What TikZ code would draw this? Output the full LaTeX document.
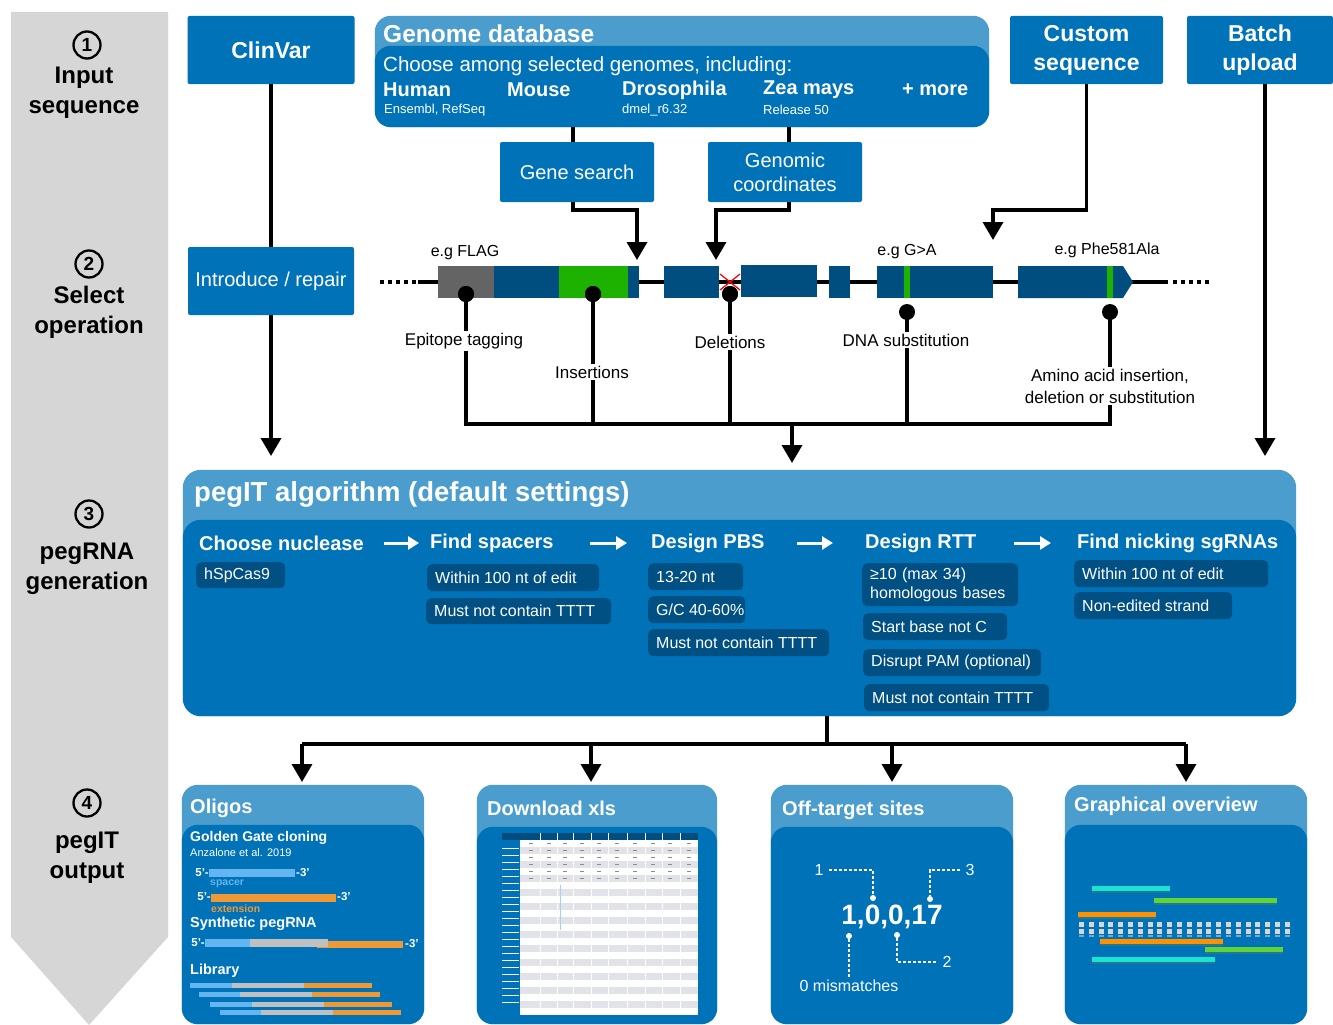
\documentclass[tikz,border=0pt]{standalone}
\usepackage{fontspec}
\setmainfont{Liberation Sans}
\usetikzlibrary{arrows.meta}
\definecolor{bmain}{RGB}{0,114,184}
\definecolor{blight}{RGB}{74,157,205}
\definecolor{bchip}{RGB}{0,80,131}
\definecolor{exon}{RGB}{0,78,128}
\definecolor{egreen}{RGB}{30,178,0}
\definecolor{egray}{RGB}{100,100,100}
\definecolor{sidegray}{RGB}{214,214,214}
\definecolor{spblue}{RGB}{100,182,240}
\definecolor{extor}{RGB}{240,152,52}
\definecolor{midgray}{RGB}{192,192,192}
\definecolor{cyanbar}{RGB}{25,228,210}
\definecolor{grnbar}{RGB}{95,212,55}
\definecolor{orbar}{RGB}{255,145,0}
\definecolor{shadowc}{RGB}{35,120,150}
\definecolor{rowgray}{RGB}{226,227,232}
\definecolor{sqgray}{RGB}{215,215,215}
\newcommand\fsz[2]{\fontsize{#1}{#2}\selectfont}
\newcommand\chiptxt[2]{\makebox[#1pt][l]{#2}}
\tikzset{
  topbox/.style={fill=bmain, text=white, inner sep=0, rounded corners=2, align=center},
  ln/.style={line width=3.5, black},
  arr/.style={line width=3.5, black, -{Triangle[length=18,width=20]}},
  warr/.style={line width=3, white, -{Triangle[length=11,width=13]}},
  dotn/.style={circle, fill=black, minimum size=16, inner sep=0},
  wdot/.style={circle, fill=white, minimum size=6, inner sep=0},
  glab/.style={fill=white, inner sep=2, font=\fsz{17}{21}, align=center},
  txt/.style={inner sep=0, text=white},
  chip/.style={fill=bchip, rounded corners=5, text=white, font=\fsz{16}{19}, inner xsep=8, inner ysep=0, anchor=north west},
  stephead/.style={txt, anchor=west, font=\bfseries\fsz{20}{24}},
  circnum/.style={circle, draw=black, line width=2.3, minimum size=27, inner sep=0, font=\bfseries\fsz{19}{19}},
  sidelab/.style={inner sep=0, align=center, font=\bfseries\fsz{24}{30}},
  ptitle/.style={txt, anchor=west, font=\bfseries\fsz{20}{24}},
  dsh/.style={white, line width=1.4, dash pattern=on 3 off 2},
}
\begin{document}
\begin{tikzpicture}[x=1pt,y=-1pt]
\useasboundingbox (0,0) rectangle (1333,1025);
\fill[white] (0,0) rectangle (1333,1025);

% ---------- left step arrow ----------
\fill[sidegray] (11,12) -- (168,12) -- (168,937) -- (89,1025) -- (11,937) -- cycle;
\node[circnum] (c1) at (87,45) {1};
\node[sidelab] (s1) at (84,93) {Input\\sequence};
\node[circnum] (c2) at (89,264) {2};
\node[sidelab] (s2) at (89,312) {Select\\operation};
\node[circnum] (c3) at (89,514) {3};
\node[sidelab] (s3) at (87,569) {pegRNA\\generation};
\node[circnum] (c4) at (87,803) {4};
\node[sidelab] (s4) at (87,858) {pegIT\\output};

% ---------- input boxes ----------
\node[topbox, minimum width=167, minimum height=68, font=\bfseries\fsz{23}{29}] (clinvar) at (271,50) {ClinVar};
\node[topbox, minimum width=153, minimum height=68, font=\bfseries\fsz{23}{29}] (cs) at (1086.5,50) {Custom\\sequence};
\node[topbox, minimum width=146, minimum height=68, font=\bfseries\fsz{23}{29}] (bu) at (1260,50) {Batch\\upload};

\node[minimum width=614, minimum height=111, inner sep=0] (gdb) at (682,71.5) {};
\fill[blight, rounded corners=16] (gdb.south west) rectangle (gdb.north east);
\fill[bmain, rounded corners=16] (gdb.south west) rectangle ([yshift=-30]gdb.north east);
\node[txt, anchor=west, font=\bfseries\fsz{24.5}{27}] (gdbt) at (383,34) {Genome database};
\node[txt, anchor=west, font=\fsz{20.5}{24}] (gdbc) at (383,66) {Choose among selected genomes, including:};
\node[txt, anchor=west, font=\bfseries\fsz{20}{24}] (hum) at (383,90) {Human};
\node[txt, anchor=west, font=\fsz{13}{15}] (humv) at (384,110) {Ensembl, RefSeq};
\node[txt, anchor=west, font=\bfseries\fsz{20}{24}] (mou) at (507,90) {Mouse};
\node[txt, anchor=west, font=\bfseries\fsz{20}{24}] (dro) at (622,90) {Drosophila};
\node[txt, anchor=west, font=\fsz{13}{15}] (drov) at (622,110) {dmel\_r6.32};
\node[txt, anchor=west, font=\bfseries\fsz{20}{24}] (zea) at (763,90) {Zea mays};
\node[txt, anchor=west, font=\fsz{13}{15}] (zeav) at (763,110) {Release 50};
\node[txt, anchor=west, font=\bfseries\fsz{20}{24}] (more) at (902,90) {+ more};

\node[topbox, minimum width=154, minimum height=60, font=\fsz{20}{24}] (gs) at (577,172) {Gene search};
\node[topbox, minimum width=154, minimum height=60, font=\fsz{20}{24}] (gc) at (785,172) {Genomic\\coordinates};
\node[topbox, minimum width=166, minimum height=68, font=\fsz{20}{24}] (intro) at (271,281) {Introduce / repair};

% ---------- connectors (input) ----------
\coordinate (gsx) at (573,0);
\coordinate (gcx) at (789,0);
\coordinate (gsin) at (637,260);
\coordinate (gcin) at (716,260);
\coordinate (csin) at (993,240);
\coordinate (buin) at (1265,456);
\coordinate (clin) at (271,456);
\draw[ln] (gdb.south -| gsx) -- (gs.north -| gsx);
\draw[ln] (gdb.south -| gcx) -- (gc.north -| gcx);
\draw[arr] (gs.south -| gsx) -- ++(0,8) -| (gsin);
\draw[arr] (gc.south -| gcx) -- ++(0,8) -| (gcin);
\draw[arr] (cs.south) -- ++(0,126) -| (csin);
\draw[arr] (bu.south -| buin) -- (buin);
\draw[ln] (clinvar.south) -- (intro.north);
\draw[arr] (intro.south) -- (clin);

% ---------- gene map ----------
\draw[line width=4] (418,282) -- (1168,282);
\draw[line width=4, dash pattern=on 4 off 4] (380,282) -- (416,282);
\draw[line width=4, dash pattern=on 4 off 4] (1173,282) -- (1210,282);
\fill[egray] (438,266) rectangle (494,298);
\fill[exon] (494,266) rectangle (559,298);
\fill[egreen] (559,266) rectangle (628,298);
\fill[exon] (628,266) rectangle (639,298);
\fill[exon] (664,266) rectangle (719,298);
\draw[red, line width=1.2] (720,274) -- (740,290) (720,290) -- (740,274);
\fill[exon] (741,265) rectangle (817,297);
\fill[exon] (829,266) rectangle (850,298);
\fill[exon] (877,266) rectangle (993,298);
\fill[egreen] (904,266) rectangle (910,298);
\fill[exon] (1018,266) -- (1123,266) -- (1133,282) -- (1123,298) -- (1018,298) -- cycle;
\fill[egreen] (1107,266) rectangle (1113,298);

\node[inner sep=0, font=\fsz{16}{19}] (fl) at (465,253) {e.g FLAG};
\node[inner sep=0, font=\fsz{16}{19}] (ga) at (907,252) {e.g G>A};
\node[inner sep=0, font=\fsz{16}{19}] (pa) at (1107,250) {e.g Phe581Ala};

\node[dotn] (d1) at (466,294) {};
\node[dotn] (d2) at (593,294) {};
\node[dotn] (d3) at (730,294) {};
\node[dotn] (d4) at (907,312) {};
\node[dotn] (d5) at (1110,312) {};
\coordinate (cL) at (466,424);
\coordinate (cR) at (1110,424);
\coordinate (cM) at (792,424);
\coordinate (algin) at (792,463);
\draw[ln] (d1.center) -- (cL) -- (cR) -- (d5.center);
\draw[ln] (d2.center) -- (d2.center |- cL);
\draw[ln] (d3.center) -- (d3.center |- cL);
\draw[ln] (d4.center) -- (d4.center |- cL);
\draw[arr] (cM) -- (algin);
\node[dotn] at (d1) {};
\node[dotn] at (d2) {};
\node[dotn] at (d3) {};
\node[glab] (lepi) at (464,341) {Epitope tagging};
\node[glab] (lins) at (592,372) {Insertions};
\node[glab] (ldel) at (730,342) {Deletions};
\node[glab] (ldna) at (906,340) {DNA substitution};
\node[glab, font=\fsz{17}{22}] (laa) at (1110,386) {Amino acid insertion,\\deletion or substitution};

% ---------- pegIT algorithm ----------
\node[minimum width=1113, minimum height=246, inner sep=0] (alg) at (739.5,593) {};
\fill[blight, rounded corners=18] (alg.south west) rectangle (alg.north east);
\fill[bmain, rounded corners=18] (alg.south west) rectangle ([yshift=-50]alg.north east);
\node[txt, anchor=west, font=\bfseries\fsz{27.5}{30}] (algt) at (194,494) {pegIT algorithm (default settings)};

\node[stephead] (h1) at (199,543) {Choose nuclease};
\node[stephead] (h2) at (430,543) {Find spacers};
\node[stephead] (h3) at (651,543) {Design PBS};
\node[stephead] (h4) at (865,543) {Design RTT};
\node[stephead] (h5) at (1077,543) {Find nicking sgRNAs};
\draw[warr] (384,543) -- (h2.west -| 419,0);
\draw[warr] (590,543) -- (h3.west -| 627,0);
\draw[warr] (797,543) -- (h4.west -| 833,0);
\draw[warr] (1014,543) -- (h5.west -| 1051,0);

\node[chip, minimum height=26] (k1) at (196,562) {\chiptxt{73}{hSpCas9}};
\node[chip, minimum height=27] (k2) at (427,564) {\chiptxt{156}{Within 100 nt of edit}};
\node[chip, minimum height=26] (k3) at (426,598) {\chiptxt{169}{Must not contain TTTT}};
\node[chip, minimum height=27] (k4) at (648,563) {\chiptxt{79}{13-20 nt}};
\node[chip, minimum height=27] (k5) at (648,596) {\chiptxt{81}{G/C 40-60\%}};
\node[chip, minimum height=27] (k6) at (648,629) {\chiptxt{165}{Must not contain TTTT}};
\node[chip, minimum height=43, align=left, text width=140] (k7) at (862,563) {≥10 (max 34)\\homologous bases};
\node[chip, minimum height=27] (k8) at (863,613) {\chiptxt{128}{Start base not C}};
\node[chip, minimum height=27] (k9) at (863,649) {\chiptxt{162}{Disrupt PAM (optional)}};
\node[chip, minimum height=27] (k10) at (864,684) {\chiptxt{169}{Must not contain TTTT}};
\node[chip, minimum height=27] (k11) at (1074,560) {\chiptxt{178}{Within 100 nt of edit}};
\node[chip, minimum height=27] (k12) at (1074,592) {\chiptxt{142}{Non-edited strand}};

% ---------- output connectors ----------
\coordinate (outx) at (827,0);
\coordinate (obus) at (827,744);
\coordinate (o1t) at (302,782);
\coordinate (o2t) at (591,782);
\coordinate (o3t) at (892,782);
\coordinate (o4t) at (1186,782);
\draw[ln] (alg.south -| outx) -- (obus);
\draw[ln] (o1t |- obus) -- (o4t |- obus);
\draw[arr] (o1t |- obus) -- (o1t);
\draw[arr] (o2t |- obus) -- (o2t);
\draw[arr] (o3t |- obus) -- (o3t);
\draw[arr] (o4t |- obus) -- (o4t);

% ---------- output panels ----------
\node[minimum width=242, minimum height=239, inner sep=0] (p1) at (303,904.5) {};
\node[minimum width=240, minimum height=239, inner sep=0] (p2) at (597,904.5) {};
\node[minimum width=242, minimum height=239, inner sep=0] (p3) at (892,904.5) {};
\node[minimum width=242, minimum height=239, inner sep=0] (p4) at (1186,904.5) {};
\foreach \p/\d in {p1/40,p2/42,p3/42,p4/40}{
  \fill[blight, rounded corners=16] (\p.south west) rectangle (\p.north east);
  \fill[bmain, rounded corners=16] (\p.south west) rectangle ([yshift=-\d]\p.north east);
}
\node[ptitle] (t1) at (190,808) {Oligos};
\node[ptitle] (t2) at (487,808) {Download xls};
\node[ptitle] (t3) at (782,810) {Off-target sites};
\node[ptitle] (t4) at (1074,806) {Graphical overview};

% Oligos content
\node[txt, anchor=west, font=\bfseries\fsz{14}{16}] (gg) at (190,838) {Golden Gate cloning};
\node[txt, anchor=west, font=\fsz{11}{13}] (anz) at (190,853) {Anzalone et al. 2019};
\node[txt, anchor=east, font=\bfseries\fsz{11.5}{13}] (a5) at (209,873) {5'-};
\fill[spblue] (209,869) rectangle (295,877);
\node[txt, anchor=west, font=\bfseries\fsz{11.5}{13}] (a3) at (296,873) {-3'};
\node[inner sep=0, anchor=west, text=spblue, font=\bfseries\fsz{10.5}{11}] (spc) at (210,884) {spacer};
\node[txt, anchor=east, font=\bfseries\fsz{11.5}{13}] (b5) at (211,897) {5'-};
\fill[extor] (211,894) rectangle (336,902);
\node[txt, anchor=west, font=\bfseries\fsz{11.5}{13}] (b3) at (337,897) {-3'};
\node[inner sep=0, anchor=west, text=extor, font=\bfseries\fsz{10.5}{11}] (ext) at (211,909) {extension};
\node[txt, anchor=west, font=\bfseries\fsz{14.5}{16}] (syn) at (190,924) {Synthetic pegRNA};
\node[txt, anchor=east, font=\bfseries\fsz{11.5}{13}] (c5) at (205,943) {5'-};
\fill[extor] (317,941) rectangle (403,948);
\fill[spblue] (205,939) rectangle (250,947);
\fill[midgray] (250,939) rectangle (328,947);
\node[txt, anchor=west, font=\bfseries\fsz{11.5}{13}] (c3) at (405,944) {-3'};
\node[txt, anchor=west, font=\bfseries\fsz{14.5}{16}] (lib) at (190,971) {Library};
\foreach \a/\b/\c/\d/\y in {190/232/304/372/983, 199/240/312/380/992, 210/252/324/392/1002, 220/261/333/401/1010}{
  \fill[spblue] (\a,\y) rectangle (\b,\y+5);
  \fill[midgray] (\b,\y) rectangle (\c,\y+5);
  \fill[extor] (\c,\y) rectangle (\d,\y+5);
}

% Download xls sheet
\fill[exon] (502,833) rectangle (698,840);
\fill[white] (520,840) rectangle (698,1015);
\foreach \y in {847,861,...,1008}{
  \fill[rowgray] (520,\y) rectangle (698,\y+7);
}
\foreach \x in {540,557,573,591,608,627,645,662,680}{
  \draw[white, line width=0.8] (\x,833) -- (\x,1015);
}
\foreach \y in {848,855,...,1008}{
  \draw[white, line width=0.8] (502,\y) -- (519,\y);
}
\foreach \y in {843,850,857,864,871,878}{
  \foreach \x in {529,547,563,580,597,615,633,651,668,687}{
    \fill[black!45] (\x,\y) rectangle (\x+4,\y+1);
  }
}
\draw[spblue!60, line width=0.6] (560,885) -- (560,930);

% Off-target content
\node[txt, font=\bfseries\fsz{28}{30}] (ot) at (892,917) {1,0,0,17};
\node[wdot] (od1) at (873,898) {};
\node[wdot] (od3) at (930,899) {};
\node[wdot] (od0) at (849,936) {};
\node[wdot] (od2) at (897,935) {};
\node[txt, font=\fsz{16}{18}] (ol1) at (819,870) {1};
\node[txt, font=\fsz{16}{18}] (ol3) at (970,870) {3};
\node[txt, font=\fsz{16}{18}] (ol2) at (947,962) {2};
\node[txt, font=\fsz{16}{18}] (ol0) at (849,986) {0 mismatches};
\draw[dsh] (ol1.east) ++(5,0) -| (od1);
\draw[dsh] (ol3.west) ++(-5,0) -| (od3);
\draw[dsh] (od0) -- ([yshift=3]ol0.north -| od0);
\draw[dsh] (od2) |- ([xshift=-5]ol2.west);

% Graphical overview content
\foreach \a/\b/\y/\c in {1092/1170/886/cyanbar, 1154/1277/898/grnbar, 1078/1156/912/orbar, 1100/1223/939/orbar, 1205/1283/947/grnbar, 1092/1215/957/cyanbar}{
  \fill[shadowc] (\a,\y+4.5) rectangle (\b,\y+6.5);
  \fill[\c] (\a,\y) rectangle (\b,\y+4.5);
}
\foreach \i in {0,...,21}{
  \fill[sqgray] (1079+\i*9.8,922) rectangle ++(5,5);
  \fill[sqgray] (1079+\i*9.8,929) rectangle ++(5,5);
  \fill[sqgray!55!bmain] (1079+\i*9.8,935) rectangle ++(5,1.5);
}
\end{tikzpicture}
\end{document}
